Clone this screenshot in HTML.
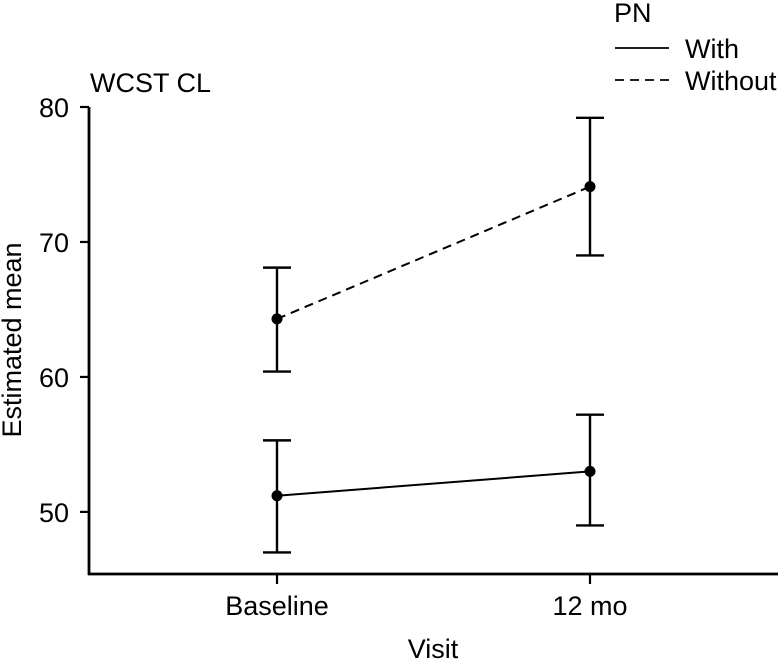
<!DOCTYPE html>
<html><head><meta charset="utf-8"><style>
html,body{margin:0;padding:0;background:#fff;}
svg{display:block;font-family:"Liberation Sans",Arial,sans-serif;}
</style></head><body>
<svg id="chart" width="781" height="663" viewBox="0 0 781 663">
<g id="axes"></g>
<g id="marks"></g>
<text x="90" y="92" font-size="27">WCST CL</text>
<text x="12" y="340" font-size="27" text-anchor="middle" dominant-baseline="central" transform="rotate(-90 12 340)">Estimated mean</text>
<text x="433" y="658" font-size="27" text-anchor="middle">Visit</text>
<g>
<text x="614" y="22" font-size="27">PN</text>
<line x1="615" y1="48" x2="669" y2="48" stroke="#000" stroke-width="1.8"/>
<text x="685" y="58" font-size="27">With</text>
<line x1="615" y1="80" x2="669" y2="80" stroke="#000" stroke-width="1.8" stroke-dasharray="9,6"/>
<text x="685" y="90" font-size="27">Without</text>
</g>
</svg>
<script>
const categories = ["Baseline", "12 mo"];
const yTicks = [50, 60, 70, 80];
const withMean = [51.2, 53.0];
const withUpper = [55.3, 57.2];
const withLower = [47.0, 49.0];
const withoutMean = [64.3, 74.1];
const withoutUpper = [68.1, 79.2];
const withoutLower = [60.4, 69.0];

const NS = "http://www.w3.org/2000/svg";
const yMin = 45.4, yMax = 80, yTopPx = 107, yBottomPx = 574, xLeftPx = 89, xRightPx = 778;
function y(v){ return yBottomPx - (v - yMin) / (yMax - yMin) * (yBottomPx - yTopPx); }
const xFirst = 277, xLast = 590;
function x(i){ return xFirst + (xLast - xFirst) * i / (categories.length - 1); }
function mk(tag, attrs, parent){
  const e = document.createElementNS(NS, tag);
  for (const k in attrs) e.setAttribute(k, attrs[k]);
  parent.appendChild(e); return e;
}
const axesG = document.getElementById('axes');
const marksG = document.getElementById('marks');
let el = mk('line', {x1:xLeftPx, y1:yTopPx, x2:xLeftPx, y2:yBottomPx+1, stroke:'#000','stroke-width':2.8}, axesG);


el = mk('line', {x1:xLeftPx-1, y1:yBottomPx, x2:xRightPx, y2:yBottomPx, stroke:'#000','stroke-width':2.8}, axesG);


yTicks.forEach(t => {
  const tk = mk('line', {x1:xLeftPx-9, y1:y(t), x2:xLeftPx, y2:y(t), stroke:'#000','stroke-width':2.2}, axesG);
  
  
  const lb = mk('text', {x:xLeftPx-20, y:y(t)+10, 'font-size':27, 'text-anchor':'end'}, axesG);
  lb.textContent = t;
  
  
});
categories.forEach((c, i) => {
  const tk = mk('line', {x1:x(i), y1:yBottomPx, x2:x(i), y2:yBottomPx+10, stroke:'#000','stroke-width':2.2}, axesG);
  
  
  const lb = mk('text', {x:x(i), y:615, 'font-size':27, 'text-anchor':'middle'}, axesG);
  lb.textContent = c;
  
  
});
function series(mean, up, lo, dash, name){
  const pts = mean.map((v,i)=> x(i)+','+y(v)).join(' ');
  const pl = mk('polyline', {points:pts, fill:'none', stroke:'#000','stroke-width':2, 'stroke-dasharray':dash}, marksG);
  
  
  mean.forEach((v,i) => {
    const eb = mk('path', {d:`M${x(i)},${y(up[i])}V${y(lo[i])}M${x(i)-14},${y(up[i])}H${x(i)+14}M${x(i)-14},${y(lo[i])}H${x(i)+14}`, stroke:'#000','stroke-width':2.4, fill:'none'}, marksG);
    
    
    const pt = mk('circle', {cx:x(i), cy:y(v), r:5.5, fill:'#000'}, marksG);
    
    
  });
}
series(withMean, withUpper, withLower, 'none', 'with');
series(withoutMean, withoutUpper, withoutLower, '9,6', 'without');
</script>
</body></html>
